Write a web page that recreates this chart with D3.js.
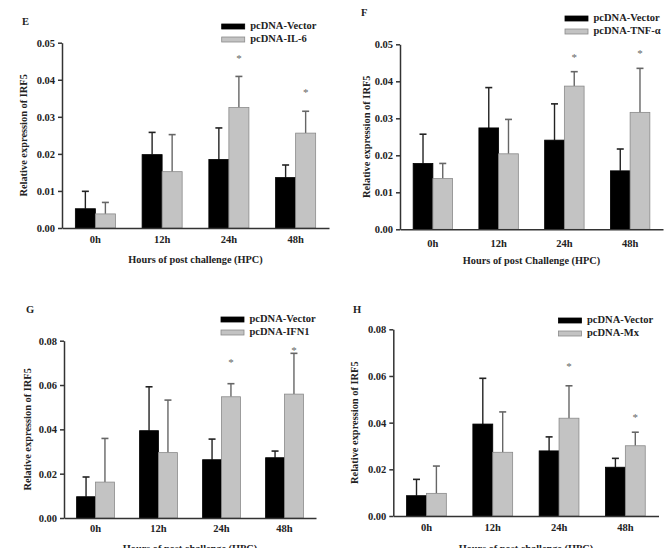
<!DOCTYPE html>
<html>
<head>
<meta charset="utf-8">
<script src="https://cdn.jsdelivr.net/npm/d3@7"></script>
<style>
  body { margin: 0; background: #fff; }
  svg text { font-family: "Liberation Serif", "Times New Roman", serif; font-weight: bold; }
</style>
</head>
<body>
<svg id="chart" width="665" height="548"></svg>
<script>
const HOURS = ['0h', '12h', '24h', '48h'];

// E: IL-6
const E_VECTOR = [0.0052, 0.0198, 0.0185, 0.0136];
const E_VECTOR_SD = [0.0047, 0.0060, 0.0085, 0.0034];
const E_TREAT = [0.0038, 0.0152, 0.0325, 0.0256];
const E_TREAT_SD = [0.0031, 0.0100, 0.0084, 0.0059];
const E_STARS = [null, null, 0.0462, 0.0370];

// F: TNF-a
const F_VECTOR = [0.0178, 0.0274, 0.0241, 0.0158];
const F_VECTOR_SD = [0.0079, 0.0109, 0.0098, 0.0059];
const F_TREAT = [0.0137, 0.0204, 0.0387, 0.0316];
const F_TREAT_SD = [0.0041, 0.0093, 0.0039, 0.0119];
const F_STARS = [null, null, 0.0471, 0.0480];

// G: IFN1
const G_VECTOR = [0.0096, 0.0394, 0.0263, 0.0272];
const G_VECTOR_SD = [0.0089, 0.0198, 0.0093, 0.0030];
const G_TREAT = [0.0162, 0.0295, 0.0547, 0.0559];
const G_TREAT_SD = [0.0197, 0.0237, 0.0059, 0.0184];
const G_STARS = [null, null, 0.0710, 0.0765];

// H: Mx
const H_VECTOR = [0.0087, 0.0394, 0.0279, 0.0209];
const H_VECTOR_SD = [0.0070, 0.0196, 0.0060, 0.0038];
const H_TREAT = [0.0097, 0.0273, 0.0419, 0.0301];
const H_TREAT_SD = [0.0117, 0.0173, 0.0139, 0.0058];
const H_STARS = [null, null, 0.0650, 0.0429];

const TICKS_SMALL = [0, 0.01, 0.02, 0.03, 0.04, 0.05];
const TICKS_LARGE = [0, 0.02, 0.04, 0.06, 0.08];

const VECTOR_LABEL = 'pcDNA-Vector';
const Y_TITLE = 'Relative expression of IRF5';

const panels = [
  { id: 'E', treatLabel: 'pcDNA-IL-6', xTitle: 'Hours of post challenge (HPC)',
    vec: E_VECTOR, vecSd: E_VECTOR_SD, trt: E_TREAT, trtSd: E_TREAT_SD, stars: E_STARS,
    ticks: TICKS_SMALL,
    x0: 62, x1: 329, y0: 228, y1: 42.7, letter: [22, 25], legend: [221.7, 24], yTitleX: 27, xTitleY: 263, tickPad: 8 },
  { id: 'F', treatLabel: 'pcDNA-TNF-α', xTitle: 'Hours of post Challenge (HPC)',
    vec: F_VECTOR, vecSd: F_VECTOR_SD, trt: F_TREAT, trtSd: F_TREAT_SD, stars: F_STARS,
    ticks: TICKS_SMALL,
    x0: 400, x1: 663, y0: 229.3, y1: 44.3, letter: [361, 16], legend: [565, 16], yTitleX: 370, xTitleY: 263.5, tickPad: 10 },
  { id: 'G', treatLabel: 'pcDNA-IFN1', xTitle: 'Hours of post challenge (HPC)',
    vec: G_VECTOR, vecSd: G_VECTOR_SD, trt: G_TREAT, trtSd: G_TREAT_SD, stars: G_STARS,
    ticks: TICKS_LARGE,
    x0: 64, x1: 316, y0: 518, y1: 340.7, letter: [26, 313], legend: [221, 317], yTitleX: 31, xTitleY: 552, tickPad: 7 },
  { id: 'H', treatLabel: 'pcDNA-Mx', xTitle: 'Hours of post challenge (HPC)',
    vec: H_VECTOR, vecSd: H_VECTOR_SD, trt: H_TREAT, trtSd: H_TREAT_SD, stars: H_STARS,
    ticks: TICKS_LARGE,
    x0: 393.3, x1: 658.5, y0: 516, y1: 329.3, letter: [353, 313], legend: [558.5, 318], yTitleX: 358, xTitleY: 552, tickPad: 8 },
];

const BLACK = '#000';
const GREY = '#c3c3c3';
const GREY_STROKE = '#8a8a8a';
const AXIS = '#333';
const FONT = 10.5;

const svg = d3.select('#chart');

panels.forEach((p) => {
  const g = svg.append('g').attr('id', 'panel-' + p.id);

  const x = d3.scaleBand().domain(HOURS).range([p.x0, p.x1]).paddingInner(0.4).paddingOuter(0.2);
  const sub = d3.scaleBand().domain(['vec', 'trt']).range([0, x.bandwidth()]);
  const y = d3.scaleLinear().domain([0, d3.max(p.ticks)]).range([p.y0, p.y1]);

  const rows = HOURS.map((h, i) => ({ h, i, vec: p.vec[i], vecSd: p.vecSd[i], trt: p.trt[i], trtSd: p.trtSd[i], star: p.stars[i] }));

  const series = [
    { key: 'vec', fill: BLACK, stroke: BLACK, err: '#222' },
    { key: 'trt', fill: GREY, stroke: GREY_STROKE, err: '#666' },
  ];

  series.forEach((s) => {
    const cx = (d) => x(d.h) + sub(s.key) + sub.bandwidth() / 2;
    const top = (d) => y(d[s.key] + d[s.key + 'Sd']);
    g.append('g').selectAll('line')
      .data(rows)
      .join('line')
      .attr('x1', cx).attr('x2', cx)
      .attr('y1', (d) => y(d[s.key])).attr('y2', top)
      .attr('stroke', s.err).attr('stroke-width', 1.4);
    g.append('g').selectAll('line')
      .data(rows)
      .join('line')
      .attr('x1', (d) => cx(d) - 3.5).attr('x2', (d) => cx(d) + 3.5)
      .attr('y1', top).attr('y2', top)
      .attr('stroke', s.err).attr('stroke-width', 1.6);
    g.append('g').selectAll('rect')
      .data(rows)
      .join('rect')
      .attr('x', (d) => x(d.h) + sub(s.key))
      .attr('y', (d) => y(d[s.key]))
      .attr('width', sub.bandwidth())
      .attr('height', (d) => p.y0 - y(d[s.key]))
      .attr('fill', s.fill)
      .attr('stroke', s.stroke)
      .attr('stroke-width', 0.8);
  });

  // significance stars
  g.append('g').selectAll('text')
    .data(rows.filter((d) => d.star != null))
    .join('text')
    .attr('x', (d) => x(d.h) + sub('trt') + sub.bandwidth() / 2)
    .attr('y', (d) => y(d.star))
    .attr('dy', '0.5em')
    .attr('text-anchor', 'middle')
    .attr('fill', '#666')
    .attr('font-size', 11)
    .style('font-weight', 'normal')
    .text('*');

  // axes
  const yAxis = g.append('g')
    .attr('transform', `translate(${p.x0},0)`)
    .call(d3.axisLeft(y).tickValues(p.ticks).tickFormat(d3.format('.2f')).tickSize(4).tickSizeOuter(0));
  const xAxis = g.append('g')
    .attr('transform', `translate(0,${p.y0})`)
    .call(d3.axisBottom(x).tickSize(0).tickPadding(p.tickPad));
  [yAxis, xAxis].forEach((a) => {
    a.selectAll('path, line').attr('stroke', AXIS).attr('stroke-width', 1.5);
    a.selectAll('text').attr('fill', '#222').attr('font-size', FONT)
      .style('font-family', '"Liberation Serif", serif').style('font-weight', 'bold');
  });

  // titles
  g.append('text')
    .attr('x', (p.x0 + p.x1) / 2).attr('y', p.xTitleY)
    .attr('text-anchor', 'middle').attr('font-size', 10.3).attr('fill', '#222')
    .text(p.xTitle);
  g.append('text')
    .attr('transform', `translate(${p.yTitleX},${(p.y0 + p.y1) / 2}) rotate(-90)`)
    .attr('text-anchor', 'middle').attr('font-size', 10.4).attr('fill', '#222')
    .text(Y_TITLE);
  g.append('text')
    .attr('x', p.letter[0]).attr('y', p.letter[1])
    .attr('font-size', FONT).attr('fill', '#222')
    .text(p.id);

  // legend
  const leg = g.append('g').attr('transform', `translate(${p.legend[0]},${p.legend[1]})`);
  const items = [
    { label: VECTOR_LABEL, fill: BLACK, stroke: BLACK },
    { label: p.treatLabel, fill: GREY, stroke: GREY_STROKE },
  ];
  leg.selectAll('g')
    .data(items)
    .join('g')
    .attr('transform', (_d, i) => `translate(0,${i * 13})`)
    .call((node) => node.append('rect')
      .attr('width', 23).attr('height', 5)
      .attr('fill', (d) => d.fill).attr('stroke', (d) => d.stroke).attr('stroke-width', 0.8))
    .call((node) => node.append('text')
      .attr('x', 28.5).attr('y', 5)
      .attr('font-size', FONT).attr('fill', '#222')
      .text((d) => d.label));
});
</script>
</body>
</html>
